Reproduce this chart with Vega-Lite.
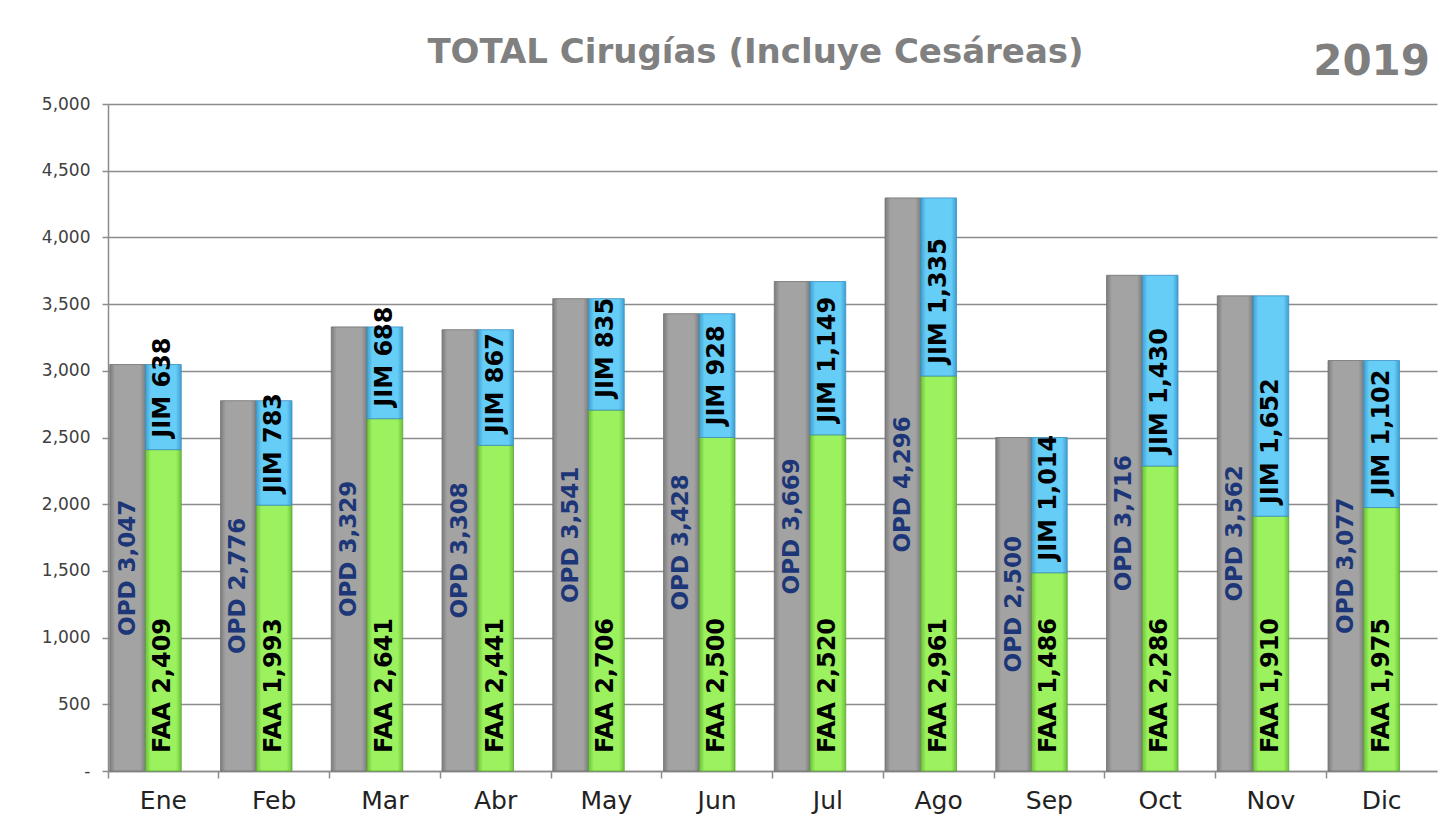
{
  "$schema": "https://vega.github.io/schema/vega-lite/v6.json",
  "width": 1329,
  "height": 667,
  "autosize": {"type": "none"},
  "padding": {"left": 108, "top": 104, "right": 5, "bottom": 58},
  "background": "white",
  "title": {
    "text": "TOTAL Cirugías (Incluye Cesáreas)",
    "font": "DejaVu Sans",
    "fontSize": 34,
    "fontWeight": "bold",
    "color": "#808080",
    "anchor": "middle",
    "dx": -17,
    "dy": 93,
    "offset": 37,
    "baseline": "alphabetic"
  },
  "config": {
    "view": {"stroke": null},
    "axis": {"labelFont": "DejaVu Sans", "titleFont": "DejaVu Sans"}
  },
  "datasets": {
    "cir": [
      {"month": "Ene", "OPD": 3047, "FAA": 2409, "JIM": 638},
      {"month": "Feb", "OPD": 2776, "FAA": 1993, "JIM": 783},
      {"month": "Mar", "OPD": 3329, "FAA": 2641, "JIM": 688},
      {"month": "Abr", "OPD": 3308, "FAA": 2441, "JIM": 867},
      {"month": "May", "OPD": 3541, "FAA": 2706, "JIM": 835},
      {"month": "Jun", "OPD": 3428, "FAA": 2500, "JIM": 928},
      {"month": "Jul", "OPD": 3669, "FAA": 2520, "JIM": 1149},
      {"month": "Ago", "OPD": 4296, "FAA": 2961, "JIM": 1335},
      {"month": "Sep", "OPD": 2500, "FAA": 1486, "JIM": 1014},
      {"month": "Oct", "OPD": 3716, "FAA": 2286, "JIM": 1430},
      {"month": "Nov", "OPD": 3562, "FAA": 1910, "JIM": 1652},
      {"month": "Dic", "OPD": 3077, "FAA": 1975, "JIM": 1102}
    ],
    "yr": [{"year": "2019"}]
  },
  "layer": [
    {
      "data": {"name": "cir"},
      "mark": {
        "type": "bar",
        "fill": {"gradient": "linear", "x1": 0, "x2": 1, "y1": 0, "y2": 0,
          "stops": [{"offset": 0, "color": "#7c7c7c"}, {"offset": 0.15, "color": "#a3a3a3"}, {"offset": 0.85, "color": "#a3a3a3"}, {"offset": 1, "color": "#7c7c7c"}]},
        "stroke": "#707070",
        "strokeWidth": 0.8
      },
      "encoding": {
        "x": {"field": "month", "type": "nominal",
          "scale": {"domain": ["Ene","Feb","Mar","Abr","May","Jun","Jul","Ago","Sep","Oct","Nov","Dic"], "paddingInner": 0, "paddingOuter": 0},
          "axis": {"title": null, "bandPosition": 0, "labelAngle": 0, "labelFontSize": 25, "labelColor": "#222222", "labelPadding": 10,
            "tickSize": 7, "tickColor": "#8c8c8c", "tickWidth": 1.5, "domainColor": "#8c8c8c", "domainWidth": 1.5, "grid": false}},
        "xOffset": {"datum": "OPD", "type": "nominal", "scale": {"domain": ["OPD", "FJ", "E"], "paddingInner": 0, "paddingOuter": 0.05}},
        "y": {"field": "OPD", "type": "quantitative",
          "scale": {"domain": [0, 5000], "nice": false},
          "axis": {"title": null, "values": [0,500,1000,1500,2000,2500,3000,3500,4000,4500,5000],
            "labelExpr": "datum.value == 0 ? '-' : format(datum.value, ',')",
            "labelFontSize": 17, "labelColor": "#404040", "labelPadding": 12,
            "grid": true, "gridColor": "#8c8c8c", "gridWidth": 1.5,
            "domainColor": "#8c8c8c", "domainWidth": 1.5, "tickColor": "#8c8c8c", "tickWidth": 1.5, "tickSize": 6}}
      }
    },
    {
      "data": {"name": "cir"},
      "mark": {
        "type": "bar",
        "fill": {"gradient": "linear", "x1": 0, "x2": 1, "y1": 0, "y2": 0,
          "stops": [{"offset": 0, "color": "#6cc23a"}, {"offset": 0.15, "color": "#9cf25e"}, {"offset": 0.85, "color": "#9cf25e"}, {"offset": 1, "color": "#6cc23a"}]},
        "stroke": "#5aa530",
        "strokeWidth": 0.8
      },
      "encoding": {
        "x": {"field": "month", "type": "nominal"},
        "xOffset": {"datum": "FJ", "type": "nominal"},
        "y": {"field": "FAA", "type": "quantitative"}
      }
    },
    {
      "data": {"name": "cir"},
      "mark": {
        "type": "bar",
        "fill": {"gradient": "linear", "x1": 0, "x2": 1, "y1": 0, "y2": 0,
          "stops": [{"offset": 0, "color": "#3e9fd2"}, {"offset": 0.15, "color": "#66cdf7"}, {"offset": 0.85, "color": "#66cdf7"}, {"offset": 1, "color": "#3e9fd2"}]},
        "stroke": "#3a8fc0",
        "strokeWidth": 0.8
      },
      "encoding": {
        "x": {"field": "month", "type": "nominal"},
        "xOffset": {"datum": "FJ", "type": "nominal"},
        "y": {"field": "FAA", "type": "quantitative"},
        "y2": {"field": "OPD"}
      }
    },
    {
      "data": {"name": "cir"},
      "transform": [
        {"calculate": "'OPD ' + format(datum.OPD, ',')", "as": "lab"},
        {"calculate": "datum.OPD / 2", "as": "mid"}
      ],
      "mark": {"type": "text", "angle": 270, "align": "center", "baseline": "middle", "font": "DejaVu Sans", "fontSize": 23, "fontWeight": "bold", "color": "#1c3678"},
      "encoding": {
        "x": {"field": "month", "type": "nominal"},
        "xOffset": {"datum": "OPD", "type": "nominal"},
        "y": {"field": "mid", "type": "quantitative"},
        "text": {"field": "lab"}
      }
    },
    {
      "data": {"name": "cir"},
      "transform": [
        {"calculate": "'FAA ' + format(datum.FAA, ',')", "as": "lab"}
      ],
      "mark": {"type": "text", "angle": 270, "align": "left", "baseline": "middle", "dx": 18, "font": "DejaVu Sans", "fontSize": 24, "fontWeight": "bold", "color": "#000000"},
      "encoding": {
        "x": {"field": "month", "type": "nominal"},
        "xOffset": {"datum": "FJ", "type": "nominal"},
        "y": {"datum": 0, "type": "quantitative"},
        "text": {"field": "lab"}
      }
    },
    {
      "data": {"name": "cir"},
      "transform": [
        {"calculate": "'JIM ' + format(datum.JIM, ',')", "as": "lab"}
      ],
      "mark": {"type": "text", "angle": 270, "align": "left", "baseline": "middle", "dx": 12, "font": "DejaVu Sans", "fontSize": 24, "fontWeight": "bold", "color": "#000000"},
      "encoding": {
        "x": {"field": "month", "type": "nominal"},
        "xOffset": {"datum": "FJ", "type": "nominal"},
        "y": {"field": "FAA", "type": "quantitative"},
        "text": {"field": "lab"}
      }
    },
    {
      "data": {"name": "yr"},
      "mark": {"type": "text", "align": "center", "baseline": "alphabetic", "dx": -10, "dy": -29, "font": "DejaVu Sans", "fontSize": 42, "fontWeight": "bold", "color": "#7f7f7f"},
      "encoding": {
        "x": {"datum": "Dic", "type": "nominal"},
        "y": {"datum": 5000, "type": "quantitative"},
        "text": {"field": "year"}
      }
    }
  ]
}
